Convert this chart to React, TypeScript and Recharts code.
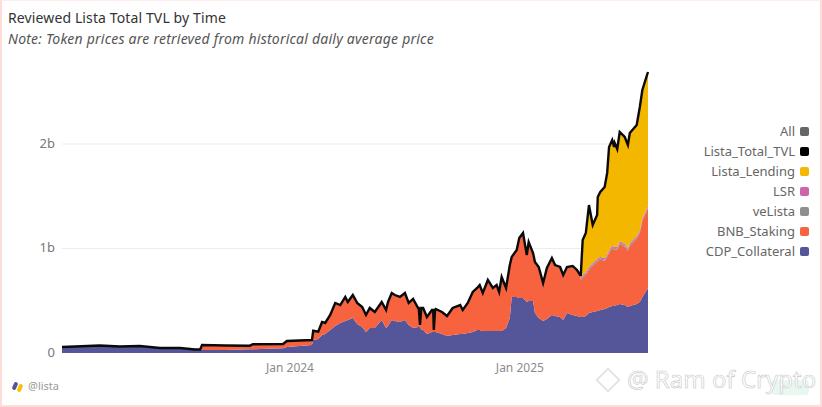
import React from "react";
import { ComposedChart, Area, Line, XAxis, YAxis, CartesianGrid } from "recharts";

// Days since 3 Jan 2023
const days = [0,21,60,92,124,156,188,212,220,223,260,299,304,352,358,398,400,408,414,419,427,435,443,451,455,463,470,478,484,490,498,509,516,519,525,530,538,546,552,559,567,568,570,572,575,581,589,591,592,594,595,605,613,622,634,638,646,654,661,665,670,678,686,692,696,700,707,713,716,724,728,734,740,743,750,753,759,766,772,780,785,793,798,804,813,820,825,826,829,834,839,845,852,853,857,864,868,871,876,879,880,884,888,896,901,904,915,920,924,930,933];
// Values in millions of USD
const totalTvl = [57,62,72,62,67,48,48,33,33,77,72,70,84,86,115,124,213,204,297,287,364,479,459,536,488,555,479,440,364,431,392,488,412,488,574,555,536,574,479,517,431,431,268,431,431,345,412,412,220,412,421,392,354,431,459,412,479,584,622,651,574,699,622,651,584,727,622,842,919,986,1100,1148,938,1062,957,871,823,670,813,909,842,823,746,823,833,794,746,746,1081,1148,1416,1225,1321,1493,1541,1589,1723,1971,2038,1971,2009,1952,2115,2067,1990,2105,2182,2354,2517,2632,2689];
const cdpCollateral = [57,62,72,62,67,48,48,33,33,29,29,35,35,45,57,77,124,134,172,182,220,258,287,306,316,335,278,249,201,239,239,316,239,258,316,306,297,316,268,239,249,249,249,225,220,182,201,201,201,201,201,182,163,172,182,182,191,201,220,220,211,211,211,211,211,211,239,335,536,536,526,526,488,497,497,383,335,306,325,364,354,345,316,383,364,354,345,345,345,354,383,392,402,402,411,421,431,440,450,450,455,459,469,459,440,450,469,488,536,593,622];
const bnbStaking = [0,0,0,0,0,0,0,0,0,48,43,35,49,41,58,47,85,66,121,101,140,217,168,226,168,216,197,187,159,188,149,168,169,226,254,245,235,254,207,274,178,178,178,202,207,159,207,207,207,207,216,206,187,255,273,226,284,370,389,418,350,475,398,427,360,503,370,494,370,437,561,609,437,552,447,475,475,351,475,532,475,465,417,427,456,427,388,356,375,395,414,443,472,481,482,462,490,520,558,538,539,529,577,558,539,577,625,663,730,749,768];
const veLista = [0,0,0,0,0,0,0,0,0,0,0,0,0,0,0,0,4,4,4,4,4,4,4,4,4,4,4,4,4,4,4,4,4,4,4,4,4,4,4,4,4,4,4,4,4,4,4,4,4,4,4,4,4,4,4,4,4,8,8,8,8,8,8,8,8,8,8,8,8,8,8,8,8,8,8,8,8,8,8,8,8,8,8,8,8,8,8,12,12,12,12,12,12,12,12,12,12,12,12,12,12,12,12,12,12,12,12,12,12,12,12];
const lsr = [0,0,0,0,0,0,0,0,0,0,0,0,0,0,0,0,0,0,0,0,0,0,0,0,0,0,0,0,0,0,0,0,0,0,0,0,0,0,0,0,0,0,0,0,0,0,0,0,0,0,0,0,0,0,0,0,0,5,5,5,5,5,5,5,5,5,5,5,5,5,5,5,5,5,5,5,5,5,5,5,5,5,5,5,5,5,5,14,14,14,14,14,14,14,14,14,14,14,14,14,14,14,14,14,14,14,14,14,14,14,14];
const listaLending = [0,0,0,0,0,0,0,0,0,0,0,0,0,0,0,0,0,0,0,0,0,0,0,0,0,0,0,0,0,0,0,0,0,0,0,0,0,0,0,0,0,0,0,0,0,0,0,0,0,0,0,0,0,0,0,0,0,0,0,0,0,0,0,0,0,0,0,0,0,0,0,0,0,0,0,0,0,0,0,0,0,0,0,0,0,0,0,19,335,373,593,364,421,584,622,680,776,985,1004,957,989,938,1043,1024,985,1052,1062,1177,1225,1264,1273];

const xTickDays = [363, 729];
const xTickLabels = ["Jan 2024", "Jan 2025"];
const yTicks = [0, 1000, 2000];
const gridValues = [1000, 2000];
const yTickLabels = ["0", "1b", "2b"];
const legendNames = ["All", "Lista_Total_TVL", "Lista_Lending", "LSR", "veLista", "BNB_Staking", "CDP_Collateral"];
const legendColors = ["#666666", "#000000", "#f4b700", "#cc66aa", "#8f8f8f", "#f7623f", "#55559a"];

const rows = days.map((day, i) => ({
  day,
  total: totalTvl[i],
  cdp: cdpCollateral[i],
  bnb: bnbStaking[i],
  velista: veLista[i],
  lsr: lsr[i],
  lending: listaLending[i],
}));

const font = "'Noto Sans', Roboto, sans-serif";

export default function App() {
  return (
    <div
      style={{
        position: "absolute",
        left: 0,
        top: 0,
        width: 822,
        height: 407,
        boxSizing: "border-box",
        background: "#fff",
        borderLeft: "2px solid #fdddd8",
        borderRight: "2px solid #fdddd8",
        borderBottom: "2px solid #fdddd8",
        borderTop: "1px solid #fdeeea",
        overflow: "hidden",
        fontFamily: font,
      }}
    >
      <div style={{ position: "absolute", left: -2, top: -1, width: 822, height: 407 }}>
        <div style={{ position: "absolute", left: 8, top: 8, fontSize: 14, lineHeight: "20px", letterSpacing: 0.12, color: "#333", whiteSpace: "nowrap" }}>
          Reviewed Lista Total TVL by Time
        </div>
        <div style={{ position: "absolute", left: 8, top: 29, fontSize: 14, lineHeight: "20px", letterSpacing: 0.23, fontStyle: "italic", color: "#555", whiteSpace: "nowrap" }}>
          Note: Token prices are retrieved from historical daily average price
        </div>

        <ComposedChart
          width={822}
          height={407}
          data={rows}
          margin={{ top: 39.5, right: 174, bottom: 0, left: 0 }}
          style={{ position: "absolute", left: 0, top: 0 }}
        >
          <CartesianGrid vertical={false} horizontalValues={gridValues} stroke="#ececec" strokeWidth={1} />
          <XAxis
            dataKey="day"
            type="number"
            domain={[0, 933]}
            ticks={xTickDays}
            tickFormatter={(v: number) => xTickLabels[xTickDays.indexOf(v)]}
            axisLine={false}
            tickLine={false}
            height={54}
            tickMargin={4}
            tick={{ fontSize: 12, fill: "#8c8c8c", fontFamily: font }}
          />
          <YAxis
            type="number"
            domain={[0, 3000]}
            ticks={yTicks}
            tickFormatter={(v: number) => yTickLabels[yTicks.indexOf(v)]}
            axisLine={false}
            tickLine={false}
            width={62}
            tickMargin={1}
            tick={{ fontSize: 13, fill: "#777", fontFamily: font, dy: -1 }}
          />
          <Area dataKey="cdp" stackId="tvl" type="linear" fill="#55559a" fillOpacity={1} stroke="none" isAnimationActive={false} />
          <Area dataKey="bnb" stackId="tvl" type="linear" fill="#f7623f" fillOpacity={1} stroke="none" isAnimationActive={false} />
          <Area dataKey="velista" stackId="tvl" type="linear" fill="#8f8f8f" fillOpacity={1} stroke="none" isAnimationActive={false} />
          <Area dataKey="lsr" stackId="tvl" type="linear" fill="#cc66aa" fillOpacity={1} stroke="none" isAnimationActive={false} />
          <Area dataKey="lending" stackId="tvl" type="linear" fill="#f4b700" fillOpacity={1} stroke="none" isAnimationActive={false} />
          <Line dataKey="total" type="linear" stroke="#0a0a0a" strokeWidth={2.4} dot={false} isAnimationActive={false} />
        </ComposedChart>

        {legendNames.map((name, i) => (
          <div key={name} style={{ position: "absolute", top: 121 + i * 20, right: 13, height: 20, display: "flex", alignItems: "center", gap: 5, whiteSpace: "nowrap" }}>
            <span style={{ fontSize: 13, color: "#666" }}>{name}</span>
            <span style={{ width: 9, height: 9, borderRadius: 2, background: legendColors[i], display: "inline-block" }} />
          </div>
        ))}

        {/* Source mark */}
        <div style={{ position: "absolute", left: 13, top: 382, width: 4, height: 8, borderRadius: 2, background: "#55559a", transform: "rotate(25deg)" }} />
        <div style={{ position: "absolute", left: 18, top: 384, width: 4, height: 8, borderRadius: 2, background: "#f4c400", transform: "rotate(25deg)" }} />
        <div style={{ position: "absolute", left: 28, top: 378, fontSize: 11, lineHeight: "16px", color: "#999" }}>@lista</div>

        {/* Corner badge */}
        <div style={{ position: "absolute", left: 771, top: 380, width: 38, height: 15, borderRadius: 4, background: "#e8f8f0" }} />

        {/* Watermark */}
        <div style={{ position: "absolute", left: 599, top: 371, width: 18, height: 18, transform: "rotate(45deg)", border: "2px solid #e4e4e4", boxSizing: "border-box", background: "#fff" }} />
        <div style={{ position: "absolute", left: 627, top: 365, fontSize: 24, lineHeight: "28px", color: "#fff", WebkitTextStroke: "0.6px #c8c8c8", whiteSpace: "nowrap" }}>
          @ Ram of Crypto
        </div>
      </div>
    </div>
  );
}
